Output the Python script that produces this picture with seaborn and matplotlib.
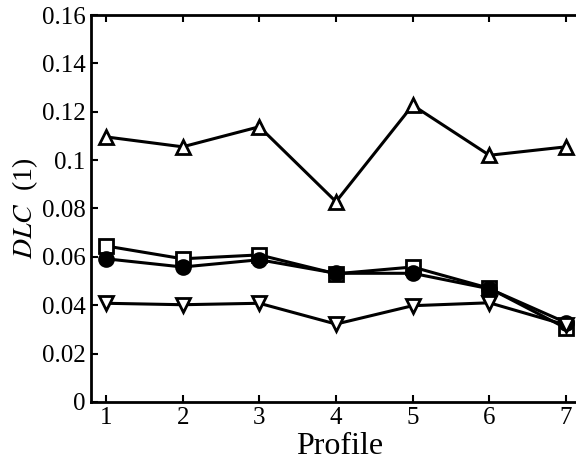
import matplotlib
matplotlib.use("Agg")
import matplotlib.pyplot as plt
import seaborn as sns
import pandas as pd

profiles = [1, 2, 3, 4, 5, 6, 7]
tri_up = [0.1096, 0.1055, 0.1138, 0.0828, 0.1227, 0.1020, 0.1055]
square = [0.0645, 0.0592, 0.0608, 0.0530, 0.0558, 0.0470, 0.0305]
circle = [0.0592, 0.0558, 0.0588, 0.0532, 0.0532, 0.0468, 0.0328]
tri_down = [0.0408, 0.0402, 0.0408, 0.0322, 0.0398, 0.0410, 0.0318]

sns.set_style("ticks")
plt.rcParams["font.family"] = ["Liberation Serif", "DejaVu Serif"]
plt.rcParams["mathtext.fontset"] = "stix"
for k in ["axes.edgecolor", "axes.labelcolor", "xtick.color", "ytick.color", "text.color"]:
    plt.rcParams[k] = "black"

fig = plt.figure(figsize=(5.76, 4.62), dpi=100)
ax = fig.add_axes([0.158, 0.130, 0.862, 0.8375])

series = [
    (tri_up, "^", "white"),
    (square, "s", "white"),
    (circle, "o", "black"),
    (tri_down, "v", "white"),
]
for vals, mk, fc in series:
    df = pd.DataFrame({"Profile": profiles, "DLC": vals})
    sns.lineplot(data=df, x="Profile", y="DLC", ax=ax, color="black",
                 linewidth=2.2, marker=mk, markersize=10,
                 markerfacecolor=fc, markeredgecolor="black",
                 markeredgewidth=2.0)

ax.set_xlim(0.805, 7.28)
ax.set_ylim(0, 0.16)
ax.set_xticks(profiles)
ax.set_yticks([0, 0.02, 0.04, 0.06, 0.08, 0.1, 0.12, 0.14, 0.16])
ax.set_yticklabels(["0", "0.02", "0.04", "0.06", "0.08", "0.1", "0.12", "0.14", "0.16"])
ax.tick_params(direction="in", length=5, width=1.5, labelsize=18,
               top=True, right=True, pad=4, colors="black")
for s in ax.spines.values():
    s.set_visible(True)
    s.set_linewidth(2.0)
    s.set_color("black")
ax.set_xlabel("Profile", fontsize=23, labelpad=1.5)
ax.set_ylabel(r"$\it{DLC}$  (1)", fontsize=20, labelpad=1)

fig.savefig("out.png", dpi=100)
